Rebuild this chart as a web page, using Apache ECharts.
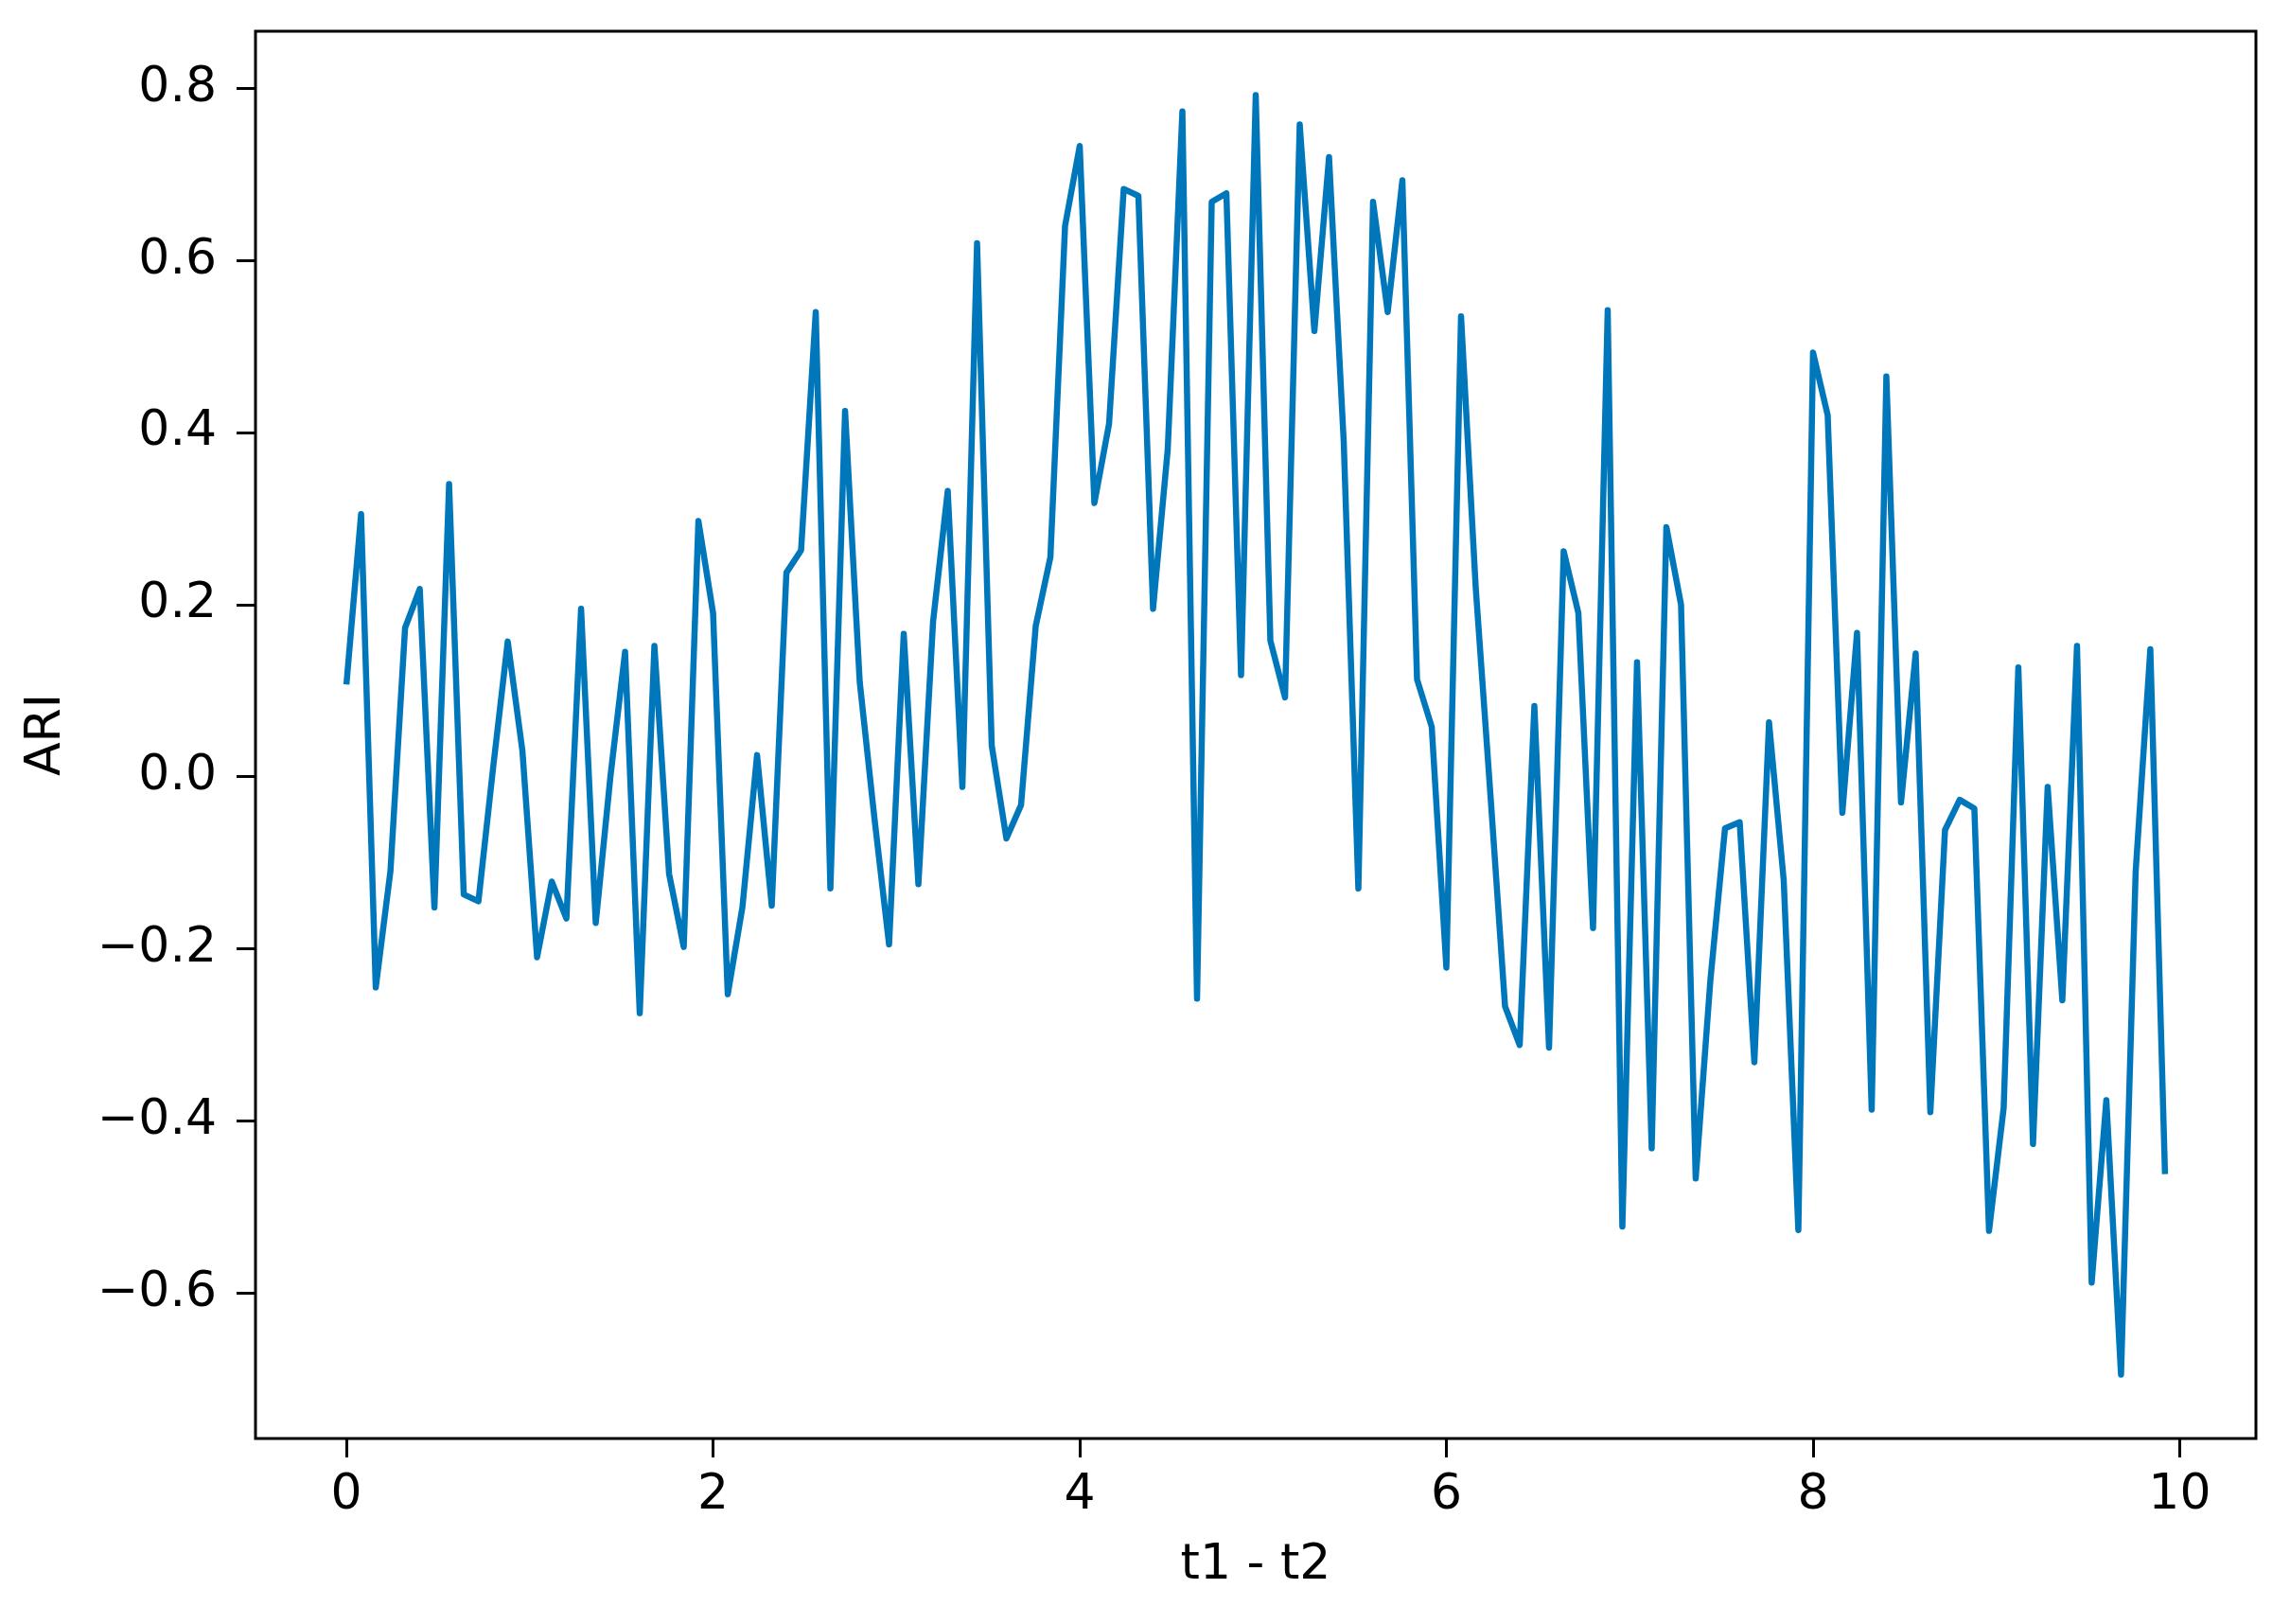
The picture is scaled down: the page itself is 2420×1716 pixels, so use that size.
<!DOCTYPE html>
<html>
<head>
<meta charset="utf-8">
<script src="https://cdn.jsdelivr.net/npm/echarts@6.0.0/dist/echarts.min.js"></script>
<style>
html,body{margin:0;padding:0;background:#fff;}
#chart{width:2420px;height:1716px;}
</style>
</head>
<body>
<div id="chart"></div>
<script>
// time difference (t1 - t2)
const tValues = [
  0,0.08,0.16,0.24,0.32,0.4,0.48,0.56,0.64,0.72,0.8,0.88,0.96,1.04,1.12,1.2,1.28,1.36,1.44,1.52,1.6,1.68,1.76,1.84,1.92,
  2,2.08,2.16,2.24,2.32,2.4,2.48,2.56,2.64,2.72,2.8,2.88,2.96,3.04,3.12,3.2,3.28,3.36,3.44,3.52,3.6,3.68,3.76,3.84,3.92,
  4,4.08,4.16,4.24,4.32,4.4,4.48,4.56,4.64,4.72,4.8,4.88,4.96,5.04,5.12,5.2,5.28,5.36,5.44,5.52,5.6,5.68,5.76,5.84,5.92,
  6,6.08,6.16,6.24,6.32,6.4,6.48,6.56,6.64,6.72,6.8,6.88,6.96,7.04,7.12,7.2,7.28,7.36,7.44,7.52,7.6,7.68,7.76,7.84,7.92,
  8,8.08,8.16,8.24,8.32,8.4,8.48,8.56,8.64,8.72,8.8,8.88,8.96,9.04,9.12,9.2,9.28,9.36,9.44,9.52,9.6,9.68,9.76,9.84,9.92
];
// ARI values
const ariValues = [
  0.107,0.305,-0.245,-0.11,0.173,0.218,-0.152,0.34,-0.137,-0.145,0.01,0.157,0.03,-0.21,-0.122,-0.165,0.195,-0.17,0.0,0.145,-0.275,0.152,-0.113,-0.198,0.297,
  0.19,-0.253,-0.152,0.025,-0.15,0.237,0.263,0.54,-0.13,0.425,0.11,-0.048,-0.195,0.166,-0.125,0.18,0.332,-0.012,0.62,0.036,-0.072,-0.033,0.175,0.255,0.64,
  0.733,0.318,0.41,0.683,0.675,0.195,0.38,0.773,-0.258,0.668,0.678,0.118,0.792,0.158,0.092,0.758,0.518,0.72,0.39,-0.13,0.668,0.54,0.693,0.113,0.058,
  -0.222,0.535,0.22,-0.02,-0.267,-0.312,0.082,-0.315,0.262,0.19,-0.176,0.542,-0.523,0.133,-0.432,0.29,0.2,-0.467,-0.237,-0.06,-0.053,-0.332,0.063,-0.12,-0.527,
  0.493,0.42,-0.042,0.167,-0.387,0.465,-0.03,0.143,-0.39,-0.062,-0.027,-0.037,-0.528,-0.385,0.127,-0.427,-0.012,-0.26,0.152,-0.588,-0.376,-0.695,-0.11,0.148,-0.462
];
const xTicks = [0, 2, 4, 6, 8, 10];
const yTicks = [-0.6, -0.4, -0.2, 0.0, 0.2, 0.4, 0.6, 0.8];
const xLabelText = 't1 - t2';
const yLabelText = 'ARI';

// matplotlib-like 5% margins
const xMinD = Math.min(...tValues), xMaxD = Math.max(...tValues);
const yMinD = Math.min(...ariValues), yMaxD = Math.max(...ariValues);
const xPad = (xMaxD - xMinD) * 0.05, yPad = (yMaxD - yMinD) * 0.05;

const seriesData = tValues.map((t, i) => [t, ariValues[i]]);
const FONT = 'DejaVu Sans';
const fmt = v => (v < 0 ? '\u2212' : '') + Math.abs(v).toFixed(1);

const chart = echarts.init(document.getElementById('chart'), null, {renderer: 'canvas'});
chart.setOption({
  animation: false,
  backgroundColor: '#ffffff',
  grid: {
    left: 270, right: 36, top: 33, bottom: 196,
    show: true, borderColor: '#000', borderWidth: 3, backgroundColor: '#fff'
  },
  xAxis: {
    type: 'value',
    min: xMinD - xPad, max: xMaxD + xPad,
    axisLine: {show: false, onZero: false},
    splitLine: {show: false},
    axisTick: {show: true, inside: false, length: 20, lineStyle: {color: '#000', width: 3}, customValues: xTicks},
    axisLabel: {customValues: xTicks, fontSize: 52, fontFamily: FONT, color: '#000', margin: 34,
      formatter: v => String(Math.round(v))},
    name: xLabelText, nameLocation: 'middle', nameGap: 108,
    nameTextStyle: {fontSize: 52, fontFamily: FONT, color: '#000'}
  },
  yAxis: {
    type: 'value',
    min: yMinD - yPad, max: yMaxD + yPad,
    axisLine: {show: false, onZero: false},
    splitLine: {show: false},
    axisTick: {show: true, inside: false, length: 20, lineStyle: {color: '#000', width: 3}, customValues: yTicks},
    axisLabel: {customValues: yTicks, fontSize: 52, fontFamily: FONT, color: '#000', margin: 41, formatter: fmt},
    name: yLabelText, nameLocation: 'middle', nameGap: 195, nameRotate: 90,
    nameTextStyle: {fontSize: 52, fontFamily: FONT, color: '#000'}
  },
  series: [{
    type: 'line',
    data: seriesData,
    showSymbol: false,
    lineStyle: {color: '#0077bb', width: 6.5, join: 'round', cap: 'butt'},
    emphasis: {disabled: true}
  }]
});
</script>
</body>
</html>
